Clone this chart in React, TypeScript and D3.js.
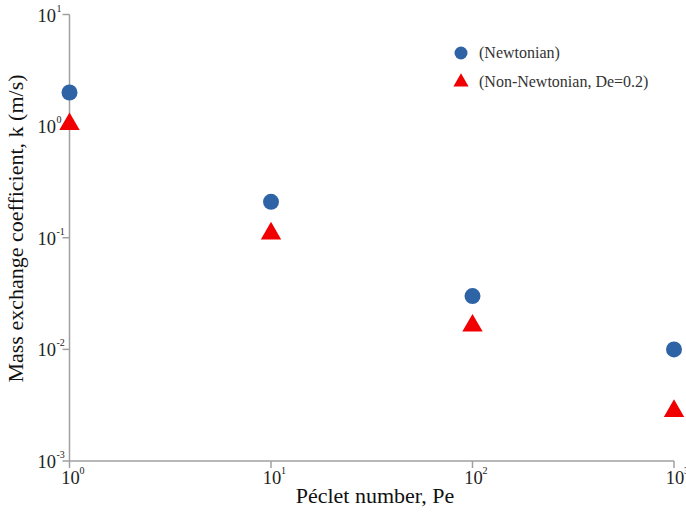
import React from "react";
import * as d3 from "d3";

// Péclet numbers and mass exchange coefficients (m/s)
const peclet = [1, 10, 100, 1000];
const newtonian = [2.0, 0.21, 0.03, 0.01];
const nonNewtonian = [1.04, 0.109, 0.0163, 0.0028];
const xTickExp = [0, 1, 2, 3];
const yTickExp = [1, 0, -1, -2, -3];
const legendLabels = ["(Newtonian)", "(Non-Newtonian, De=0.2)"];

const W = 686;
const H = 512;
const m = { left: 69.5, right: 674, top: 14.5, bottom: 461 };

export default function App() {
  const x = d3.scaleLog().domain([1, 1000]).range([m.left, m.right]);
  const y = d3.scaleLog().domain([0.001, 10]).range([m.bottom, m.top]);
  const tri = d3.symbol().type(d3.symbolTriangle).size(180)();
  const axisColor = "#a0a0a0";
  const font = "'Liberation Serif', 'Times New Roman', serif";

  return (
    <svg width={W} height={H} style={{ position: "absolute", left: 0, top: 0 }} fontFamily={font}>
      <rect width={W} height={H} fill="#fff" />
      {/* axes */}
      <line x1={m.left} x2={m.left} y1={m.top} y2={m.bottom} stroke={axisColor} strokeWidth={1.5} />
      <line x1={m.left} x2={m.right} y1={m.bottom} y2={m.bottom} stroke={axisColor} strokeWidth={1.5} />
      {yTickExp.map((e) => (
        <g key={"y" + e} transform={`translate(0,${y(Math.pow(10, e))})`}>
          <line x1={m.left - 7} x2={m.left} stroke={axisColor} strokeWidth={1.5} />
          <text x={56} y={7} textAnchor="end" fontSize={18.5} fill="#222">10</text>
          <text x={56.5} y={-3} fontSize={10} fill="#222">{e}</text>
        </g>
      ))}
      {xTickExp.map((e) => (
        <g key={"x" + e} transform={`translate(${x(Math.pow(10, e))},0)`}>
          <line y1={m.bottom} y2={m.bottom + 7} stroke={axisColor} strokeWidth={1.5} />
          <text x={1} y={m.bottom + 23} textAnchor="middle" fontSize={18.5} fill="#222">10</text>
          <text x={10} y={m.bottom + 13} fontSize={10} fill="#222">{e}</text>
        </g>
      ))}
      {/* axis titles */}
      <text x={375} y={503} textAnchor="middle" fontSize={22} fill="#111">Péclet number, Pe</text>
      <text transform={`translate(23,${(62 + 395) / 2}) rotate(-90)`} textAnchor="middle" fontSize={22} fill="#111">
        Mass exchange coefficient, k (m/s)
      </text>
      {/* data */}
      {peclet.map((p, i) => (
        <circle key={"n" + i} cx={x(p)} cy={y(newtonian[i])} r={8} fill="#2e64a6" />
      ))}
      {peclet.map((p, i) => (
        <path key={"t" + i} d={tri!} transform={`translate(${x(p)},${y(nonNewtonian[i])})`} fill="#f00000" />
      ))}
      {/* legend */}
      <circle cx={461} cy={53} r={6.5} fill="#2e64a6" />
      <text x={479} y={58} fontSize={16} fill="#333">{legendLabels[0]}</text>
      <path d={d3.symbol().type(d3.symbolTriangle).size(100)()!} transform="translate(461,82)" fill="#f00000" />
      <text x={479} y={87} fontSize={16} fill="#333">{legendLabels[1]}</text>
    </svg>
  );
}
